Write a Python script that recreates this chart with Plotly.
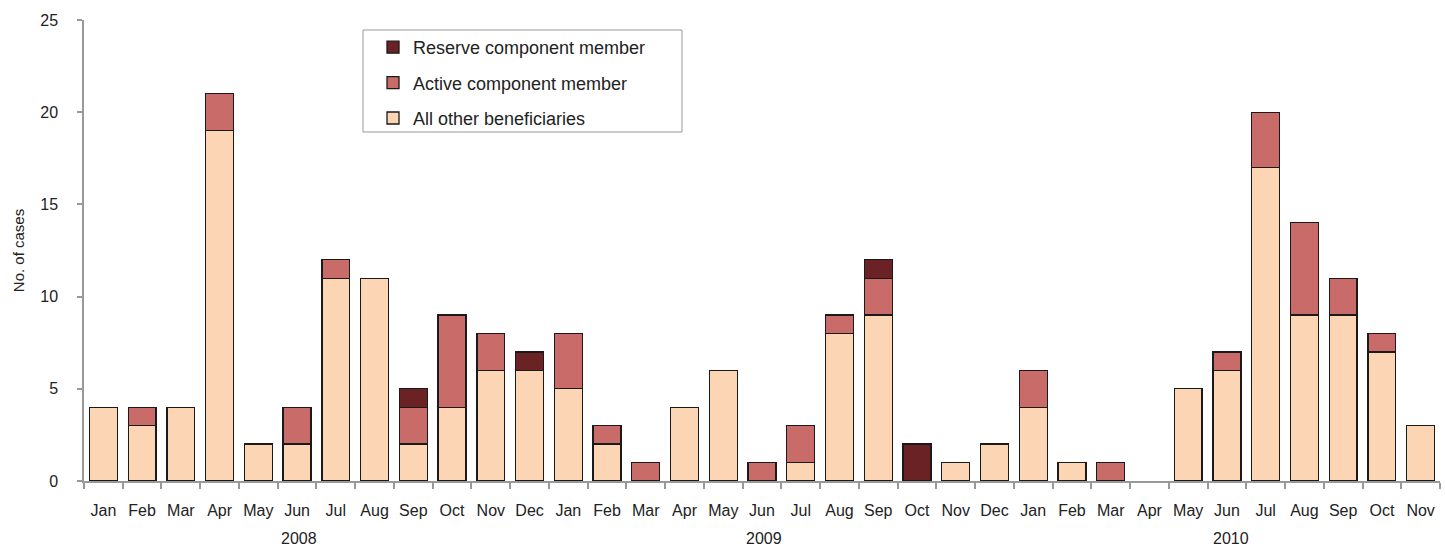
import plotly.graph_objects as go

months = ["Jan","Feb","Mar","Apr","May","Jun","Jul","Aug","Sep","Oct","Nov","Dec",
          "Jan","Feb","Mar","Apr","May","Jun","Jul","Aug","Sep","Oct","Nov","Dec",
          "Jan","Feb","Mar","Apr","May","Jun","Jul","Aug","Sep","Oct","Nov"]
years = ["2008", "2009", "2010"]
year_pos = [5.05, 17.05, 29.1]

other = [4,3,4,19,2,2,11,11,2,4,6,6,
         5,2,0,4,6,0,1,8,9,0,1,2,
         4,1,0,0,5,6,17,9,9,7,3]
active = [0,1,0,2,0,2,1,0,2,5,2,0,
          3,1,1,0,0,1,2,1,2,0,0,0,
          2,0,1,0,0,1,3,5,2,1,0]
reserve = [0,0,0,0,0,0,0,0,1,0,0,1,
           0,0,0,0,0,0,0,0,1,2,0,0,
           0,0,0,0,0,0,0,0,0,0,0]

x = list(range(len(months)))
font = "Liberation Sans, Arial, sans-serif"

fig = go.Figure()
series = [("All other beneficiaries", other, "#FCD5B4", 3),
          ("Active component member", active, "#C86B69", 2),
          ("Reserve component member", reserve, "#6B2224", 1)]
for name, vals, col, rank in series:
    fig.add_trace(go.Bar(x=x, y=[v if v else None for v in vals], name=name,
                         legendgroup=name, legendrank=rank,
                         marker=dict(color=col, line=dict(color="#1a1a1a", width=1.3)),
                         width=0.72))

for yr, xp in zip(years, year_pos):
    fig.add_annotation(x=xp, y=0, xref="x", yref="paper", yshift=-68, text=yr,
                       showarrow=False, font=dict(size=16, color="#222", family=font))

fig.add_shape(type="rect", xref="paper", yref="paper",
              x0=(363-84)/1356, x1=(682-84)/1356, y0=(481-132)/461, y1=(481-30)/461,
              line=dict(color="#999", width=1), fillcolor="rgba(0,0,0,0)")

fig.update_layout(
    barmode="stack", width=1445, height=548,
    margin=dict(l=84, r=5, t=20, b=67, autoexpand=False),
    plot_bgcolor="white", paper_bgcolor="white",
    font=dict(family=font, size=16, color="#222"),
    showlegend=True,
    legend=dict(x=(373-84)/1356, y=(481-29)/461, xanchor="left", yanchor="top",
                traceorder="grouped", bgcolor="rgba(0,0,0,0)", borderwidth=0,
                font=dict(size=18, color="#222", family=font), tracegroupgap=9),
    xaxis=dict(range=[-0.5, 34.5], tickvals=x, ticktext=months, ticks="",
               ticklabelstandoff=14,
               showline=True, linecolor="#999", linewidth=1.5, showgrid=False,
               zeroline=False, tickfont=dict(size=16),
               minor=dict(tick0=-0.5, dtick=1, ticks="outside", ticklen=6,
                          tickcolor="#999", tickwidth=1.5, showgrid=False)),
    yaxis=dict(range=[0, 25], dtick=5, ticks="outside", ticklen=5, tickcolor="#999",
               tickwidth=1.5, showline=True, linecolor="#999", linewidth=1.5,
               ticklabelstandoff=16,
               showgrid=False, zeroline=False, tickfont=dict(size=16),
               automargin=False,
               title=dict(text="No. of cases", font=dict(size=15), standoff=12)),
)

fig.write_html("out.html", config={"displayModeBar": False},
               post_script="document.body.style.margin='0';")
